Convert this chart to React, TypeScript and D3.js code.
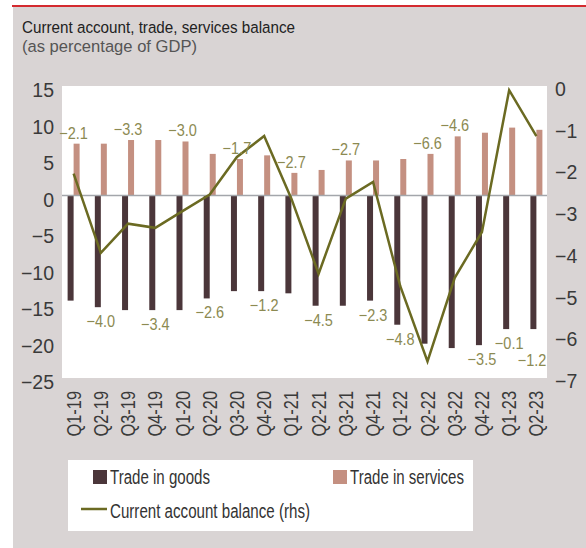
import React from "react";
import * as d3 from "d3";

const quarters = [
  "Q1-19", "Q2-19", "Q3-19", "Q4-19", "Q1-20", "Q2-20", "Q3-20", "Q4-20", "Q1-21",
  "Q2-21", "Q3-21", "Q4-21", "Q1-22", "Q2-22", "Q3-22", "Q4-22", "Q1-23", "Q2-23",
];
const goods = [
  -14.4, -15.3, -15.7, -15.7, -15.7, -14.1, -13.1, -13.1, -13.4,
  -15.1, -15.1, -14.4, -17.7, -20.3, -20.9, -20.5, -18.3, -18.3,
];
const services = [
  7.1, 7.1, 7.6, 7.6, 7.4, 5.7, 5.0, 5.5, 3.1,
  3.5, 4.8, 4.8, 5.0, 5.7, 8.1, 8.6, 9.3, 9.0,
];
const currentAccount = [
  -2.1, -4.0, -3.3, -3.4, -3.0, -2.6, -1.7, -1.2, -2.7,
  -4.5, -2.7, -2.3, -4.8, -6.6, -4.6, -3.5, -0.1, -1.2,
];
// where each balance label sits: above the services bar or below the goods bar
const labelSide = [
  "up", "down", "up", "down", "up", "down", "up", "down", "up",
  "down", "up", "down", "down", "up", "up", "down", "down", "down",
];
const leftTicks = [15, 10, 5, 0, -5, -10, -15, -20, -25];
const rightTicks = [0, -1, -2, -3, -4, -5, -6, -7];

const FONT = "'Liberation Sans', Arial, sans-serif";
const GOODS = "#4b363a";
const SERVICES = "#c49081";
const LINE = "#6b6a22";
const LABEL = "#8c8a52";
const BG = "#d9d4d4";

const fmt = (v: number) => (v < 0 ? "\u2212" : "") + Math.abs(v).toFixed(1);
const fmtTick = (v: number) => (v < 0 ? "\u2212" : "") + Math.abs(v);

// text squeezed horizontally to mimic the condensed face of the original
const T = ({ x, y, sx = 0.85, rot = 0, children, ...rest }: any) => (
  <text
    transform={`translate(${x},${y})${rot ? ` rotate(${rot})` : ""} scale(${sx},1)`}
    {...rest}
  >
    {children}
  </text>
);

export default function App() {
  const plot = { left: 62, right: 547, top: 86, bottom: 378 };

  const x = d3.scaleBand<string>().domain(quarters).range([60, 550]).padding(0);
  const cx = (q: string) => (x(q) as number) + x.bandwidth() / 2;
  const barW = 6;

  const yL = d3.scaleLinear().domain([-25, 15]).range([plot.bottom, plot.top]);
  const yR = d3.scaleLinear().domain([-7, 0]).range([plot.bottom, plot.top]);

  const line = d3
    .line<number>()
    .x((_, i) => cx(quarters[i]))
    .y((d) => yR(d));

  // extra push for a label that would otherwise collide with its neighbour
  const nudge: Record<string, number> = { "Q2-23": 17 };

  return (
    <svg
      width={586}
      height={548}
      style={{ position: "absolute", left: 0, top: 0 }}
      fontFamily={FONT}
    >
      <rect x={0} y={0} width={586} height={548} fill="#fff" />
      <rect x={13} y={7} width={573} height={541} fill={BG} />
      <rect x={12} y={5} width={574} height={2} fill="#d42a2f" />

      <text x={22} y={32.5} fontSize={16.8} fill="#222" textLength={273} lengthAdjust="spacingAndGlyphs">
        Current account, trade, services balance
      </text>
      <text x={22} y={52} fontSize={16.8} fill="#555" textLength={175} lengthAdjust="spacingAndGlyphs">
        (as percentage of GDP)
      </text>

      <rect
        x={plot.left}
        y={plot.top}
        width={plot.right - plot.left}
        height={plot.bottom - plot.top}
        fill="#fff"
      />

      {leftTicks.map((t) => (
        <T
          key={"l" + t}
          x={54}
          y={yL(t) + 4}
          sx={1}
          fontSize={19.5}
          fill="#3a3a3a"
          textAnchor="end"
          dominantBaseline="central"
        >
          {fmtTick(t)}
        </T>
      ))}
      {rightTicks.map((t) => (
        <T
          key={"r" + t}
          x={555}
          y={yR(t) + 3}
          sx={1}
          fontSize={19.5}
          fill="#3a3a3a"
          dominantBaseline="central"
        >
          {fmtTick(t)}
        </T>
      ))}

      {quarters.map((q, i) => (
        <g key={q}>
          <rect
            x={cx(q) - barW}
            y={yL(0)}
            width={barW}
            height={yL(goods[i]) - yL(0)}
            fill={GOODS}
          />
          <rect
            x={cx(q)}
            y={yL(services[i])}
            width={barW}
            height={yL(0) - yL(services[i])}
            fill={SERVICES}
          />
        </g>
      ))}

      <line
        x1={plot.left}
        x2={plot.right}
        y1={yL(0)}
        y2={yL(0)}
        stroke="#a3a6ab"
        strokeWidth={1.5}
      />

      <path d={line(currentAccount) || ""} fill="none" stroke={LINE} strokeWidth={2.5} />

      {quarters.map((q, i) => {
        const up = labelSide[i] === "up";
        const y = up ? yL(services[i]) - 5 : yL(goods[i]) + 20 + (nudge[q] || 0);
        const xx = Math.min(cx(q), plot.right - 15);
        return (
          <T key={"v" + q} x={xx} y={y} sx={0.88} fontSize={16.5} fill={LABEL} textAnchor="middle">
            {fmt(currentAccount[i])}
          </T>
        );
      })}

      {quarters.map((q) => (
        <T
          key={"x" + q}
          x={cx(q)}
          y={391}
          rot={-90}
          sx={0.82}
          fontSize={20}
          fill="#3a3a3a"
          textAnchor="end"
          dominantBaseline="central"
        >
          {q}
        </T>
      ))}

      <rect x={68} y={460} width={405} height={71} fill="#fff" />
      <rect x={93} y={470} width={14} height={14} fill={GOODS} />
      <text x={110} y={484} fontSize={20} fill="#333" textLength={100} lengthAdjust="spacingAndGlyphs">
        Trade in goods
      </text>
      <rect x={333} y={470} width={14} height={14} fill={SERVICES} />
      <text x={350} y={484} fontSize={20} fill="#333" textLength={114} lengthAdjust="spacingAndGlyphs">
        Trade in services
      </text>
      <line x1={81} x2={107} y1={509} y2={509} stroke={LINE} strokeWidth={2.5} />
      <text x={110} y={518} fontSize={20} fill="#333" textLength={200} lengthAdjust="spacingAndGlyphs">
        Current account balance (rhs)
      </text>
    </svg>
  );
}
